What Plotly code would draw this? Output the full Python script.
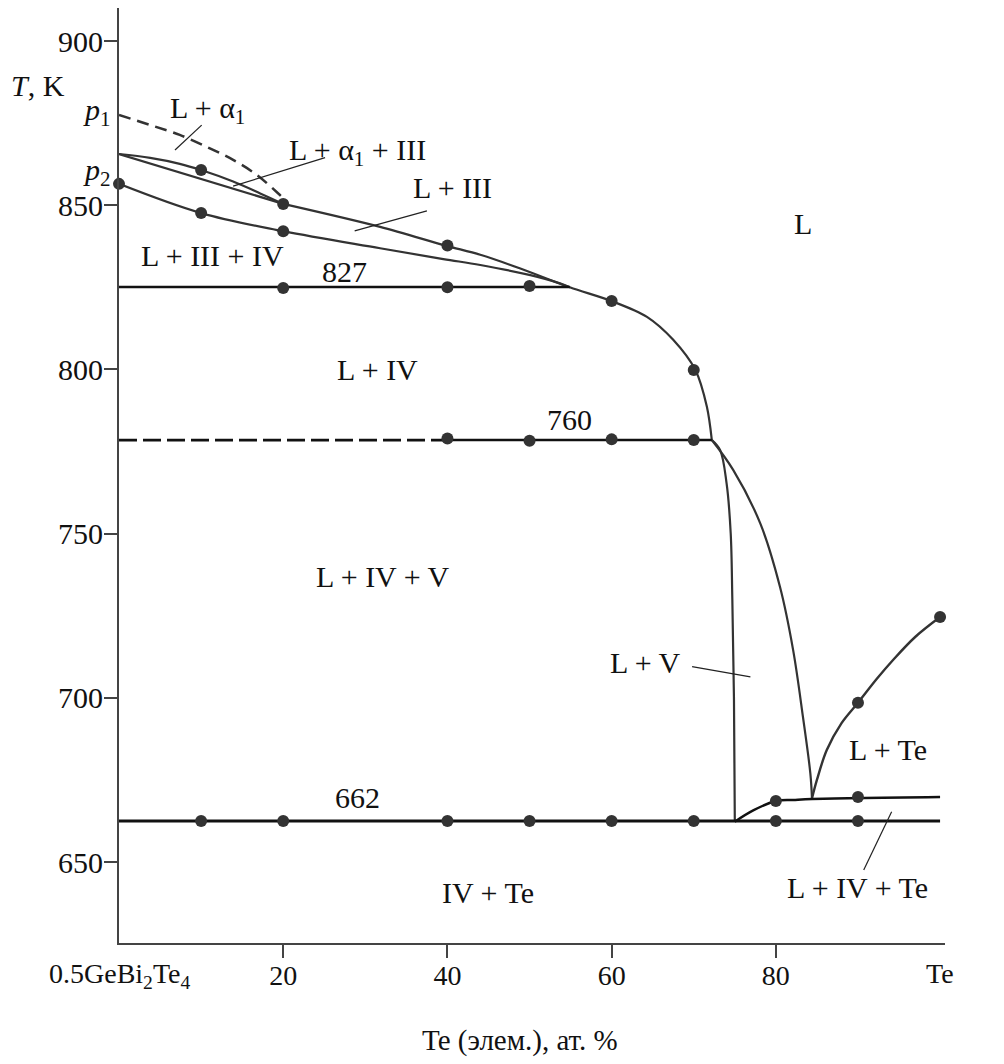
import plotly.graph_objects as go

# ---------------- data (x: Te, at.%; y: T, K) ----------------
alpha_liq_x = [0, 3.8, 7.4, 11.0, 13.9, 16.8, 19.6, 20.5]
alpha_liq_y = [877.5, 874.4, 871.4, 867.4, 863.8, 859.2, 853.1, 851.0]

arc_upper_x = [0, 3.8, 7.4, 10.0, 13.9, 17.2, 20.0]
arc_upper_y = [865.6, 864.4, 862.6, 860.7, 857.2, 853.6, 850.4]

arc_lower_x = [0, 20.0]
arc_lower_y = [865.6, 850.4]

liquidus_x = [20.0, 31.8, 39.8, 44.0, 48.8, 54.9, 60.0, 64.3, 67.5, 70.2, 71.6, 72.2]
liquidus_y = [850.4, 843.4, 837.7, 834.9, 830.8, 825.0, 820.8, 816.0, 809.0, 799.8, 788.6, 778.5]

steep_x = [72.2, 73.2, 74.0, 74.5, 74.7, 74.9, 75.0]
steep_y = [778.5, 775.5, 765.3, 750.1, 729.8, 699.3, 662.3]

iii_iv_x = [0, 10, 20, 31.8, 39.5, 44.0, 50.1, 53.7, 54.9]
iii_iv_y = [856.5, 847.6, 842.1, 836.9, 833.6, 831.8, 828.7, 826.2, 825.0]

v_liq_x = [72.2, 74.8, 78.1, 80.5, 82.1, 83.3, 84.2, 84.4]
v_liq_y = [778.5, 769.4, 753.1, 733.8, 714.6, 694.2, 677.0, 669.4]

te_liq_x = [84.4, 85.0, 86.2, 88.0, 90.0, 92.3, 94.3, 97.0, 100.0]
te_liq_y = [669.4, 675.0, 684.1, 692.3, 698.5, 705.8, 711.6, 718.6, 724.6]

te_sol_x = [75.0, 77.3, 80.0, 82.1, 84.4, 100.0]
te_sol_y = [662.3, 665.8, 668.6, 668.9, 669.2, 669.8]

iso827_x = [0, 54.9]
iso827_y = [825.1, 825.1]
iso760_dash_x = [0, 40]
iso760_dash_y = [778.5, 778.5]
iso760_x = [40, 72.2]
iso760_y = [778.5, 778.5]
iso662_x = [0, 100]
iso662_y = [662.5, 662.5]

pts_x = [0, 10, 10, 20, 20, 40, 60, 70,
         20, 40, 50,
         40, 50, 60, 70,
         10, 20, 40, 50, 60, 70, 80, 90,
         80, 90, 90, 100]
pts_y = [856.5, 860.7, 847.6, 850.4, 842.1, 837.7, 820.8, 799.8,
         824.8, 825.0, 825.4,
         779.0, 778.3, 778.7, 778.5,
         662.5, 662.5, 662.5, 662.5, 662.5, 662.5, 662.5, 662.5,
         668.6, 669.8, 698.5, 724.6]

y_ticks = [650, 700, 750, 800, 850, 900]
x_ticks = [20, 40, 60, 80]
x_end_labels = ["0.5GeBi<sub>2</sub>Te<sub>4</sub>", "Te"]
x_end_pos = [0, 100]

region_labels = [
    ("L + α<sub>1</sub>", 10.8, 879.0),
    ("L + α<sub>1</sub> + III", 29.0, 866.2),
    ("L + III", 40.6, 855.4),
    ("L", 83.3, 844.3),
    ("L + III + IV", 11.4, 834.6),
    ("827", 27.5, 829.8),
    ("L + IV", 31.5, 800.0),
    ("760", 54.9, 784.8),
    ("L + IV + V", 32.2, 736.8),
    ("L + V", 64.1, 710.8),
    ("L + Te", 93.7, 684.4),
    ("662", 29.1, 669.8),
    ("IV + Te", 44.9, 640.8),
    ("L + IV + Te", 89.9, 642.3),
]

# labels left of the value axis (x in paper fraction, y in K)
side_labels = [
    ("<i>T</i>, K", -0.098, 886.6),
    ("<i>p</i><sub>1</sub>", -0.027, 878.4),
    ("<i>p</i><sub>2</sub>", -0.027, 860.0),
]

leaders = [
    ((6.82, 866.8), (10.07, 874.4)),
    ((13.9, 855.8), (25.1, 864.5)),
    ((28.7, 842.2), (37.5, 848.3)),
    ((69.8, 709.5), (76.9, 706.4)),
    ((94.1, 665.3), (90.7, 647.6)),
]

# ---------------- figure ----------------
FONT = "Liberation Serif, Times New Roman, serif"
CURVE = "#333333"
ISO = "#111111"
LABEL_SIZE = 30

fig = go.Figure()


def add_line(x, y, color, width, dash="solid", shape="spline", smoothing=1.0):
    fig.add_trace(go.Scatter(
        x=x, y=y, mode="lines",
        line=dict(color=color, width=width, dash=dash, shape=shape,
                  smoothing=smoothing if shape == "spline" else None),
        hoverinfo="skip", showlegend=False))


add_line(alpha_liq_x, alpha_liq_y, CURVE, 2.5, dash="12px,7px")
add_line(arc_upper_x, arc_upper_y, CURVE, 2.2)
add_line(arc_lower_x, arc_lower_y, CURVE, 2.2, shape="linear")
add_line(liquidus_x, liquidus_y, CURVE, 2.2, smoothing=0.9)
add_line(steep_x, steep_y, CURVE, 2.2)
add_line(iii_iv_x, iii_iv_y, CURVE, 2.2)
add_line(v_liq_x, v_liq_y, CURVE, 2.2)
add_line(te_liq_x, te_liq_y, CURVE, 2.4)
add_line(te_sol_x, te_sol_y, ISO, 2.4)

add_line(iso827_x, iso827_y, ISO, 2.6, shape="linear")
add_line(iso760_dash_x, iso760_dash_y, ISO, 2.8, dash="18px,6px", shape="linear")
add_line(iso760_x, iso760_y, ISO, 2.6, shape="linear")
add_line(iso662_x, iso662_y, ISO, 2.8, shape="linear")

fig.add_trace(go.Scatter(
    x=pts_x, y=pts_y, mode="markers",
    marker=dict(size=12, color="#333333", line=dict(width=0)),
    hoverinfo="skip", showlegend=False, cliponaxis=False))

for text, x, y in region_labels:
    fig.add_annotation(x=x, y=y, text=text, showarrow=False,
                       xanchor="center", yanchor="middle",
                       font=dict(family=FONT, size=LABEL_SIZE, color="#111111"))

for text, x, y in side_labels:
    fig.add_annotation(x=x, xref="paper", y=y, yref="y", text=text,
                       showarrow=False, xanchor="center", yanchor="middle",
                       font=dict(family=FONT, size=LABEL_SIZE, color="#111111"))

for (x0, y0), (x1, y1) in leaders:
    fig.add_shape(type="line", x0=x0, y0=y0, x1=x1, y1=y1,
                  line=dict(color="#222222", width=1.2))

for text, x in zip(x_end_labels, x_end_pos):
    fig.add_annotation(x=x, xref="x", y=0, yref="paper", text=text,
                       showarrow=False, xanchor="center", yanchor="top",
                       yshift=-13,
                       font=dict(family=FONT, size=28, color="#111111"))

fig.add_annotation(x=0.4855, xref="paper", y=0, yref="paper",
                   text="Te (элем.), ат. %", showarrow=False,
                   xanchor="center", yanchor="middle", yshift=-97,
                   font=dict(family=FONT, size=29, color="#111111"))

axis_common = dict(showgrid=False, zeroline=False, showline=True,
                   linecolor="#444444", linewidth=2, ticks="outside",
                   ticklen=13, tickwidth=1.5, tickcolor="#444444")

fig.update_layout(
    width=996, height=1056,
    margin=dict(l=111, r=59, t=0, b=121),
    paper_bgcolor="white", plot_bgcolor="white",
    xaxis=dict(range=[0, 100.6], tickvals=x_ticks,
               ticktext=[str(v) for v in x_ticks], ticklabelstandoff=-7,
               tickfont=dict(family=FONT, size=28, color="#111111"),
               **axis_common),
    yaxis=dict(range=[625.35, 910.05], tickvals=y_ticks,
               ticktext=[str(v) for v in y_ticks], ticklabelstandoff=-5,
               tickfont=dict(family=FONT, size=30, color="#111111"),
               **axis_common),
    showlegend=False,
)

fig.write_html("out.html")
